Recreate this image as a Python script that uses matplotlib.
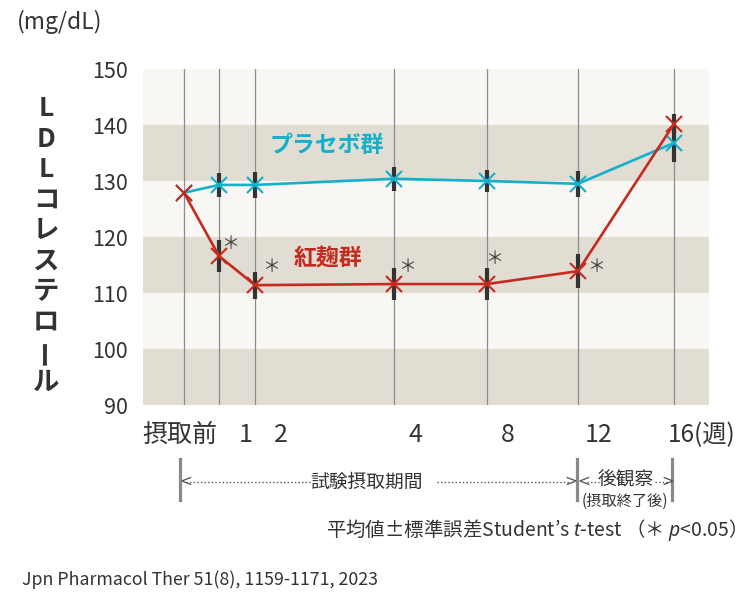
import matplotlib
matplotlib.use('Agg')
import matplotlib.pyplot as plt
import numpy as np

plt.rcParams['font.family'] = ['Noto Sans CJK JP', 'DejaVu Sans']
plt.rcParams['mathtext.fontset'] = 'custom'
plt.rcParams['mathtext.rm'] = 'Noto Sans'
plt.rcParams['mathtext.it'] = 'Noto Sans:italic'

# data
x_labels = ['摂取前', '1', '2', '4', '8', '12', '16(週)']
x_pos = [41, 76, 112, 251, 344, 435, 531]      # positions of the sampling lines on the axis
placebo = [127.9, 129.3, 129.3, 130.4, 130.0, 129.5, 136.8]
placebo_err = [0, 2.2, 2.3, 2.1, 2.0, 2.3, 3.4]
koji = [127.9, 116.6, 111.4, 111.6, 111.6, 113.9, 140.2]
koji_err = [0, 2.9, 2.4, 2.9, 2.9, 3.0, 1.8]
significant = [False, True, True, True, True, True, False]
y_ticks = [90, 100, 110, 120, 130, 140, 150]

W, H = 738, 599
cyan = '#13b0cb'
red = '#c62a1f'
dark = '#333333'
band = '#e1ddd3'
bg = '#f8f7f4'


def px(x, y):
    return (x / W, 1 - y / H)


fig = plt.figure(figsize=(W / 100, H / 100), dpi=100)
ax = fig.add_axes([143 / W, 1 - 405 / H, 566 / W, 336 / H])
ax.set_facecolor(bg)
ax.set_xlim(0, 566)
ax.set_ylim(90, 150)

for lo in (90, 110, 130):
    ax.axhspan(lo, lo + 10, color=band, lw=0, zorder=0)
for xp in x_pos:
    ax.axvline(xp, color='#8c8c8c', lw=0.9, zorder=1)

for s in ax.spines.values():
    s.set_visible(False)
ax.set_xticks([])
ax.set_yticks(y_ticks)
ax.tick_params(axis='y', length=0, pad=11, labelsize=15.5, labelcolor=dark)

# error bars
ax.errorbar(x_pos, placebo, yerr=placebo_err, fmt='none', ecolor=dark,
            elinewidth=3, capsize=0, zorder=3)
ax.errorbar(x_pos, koji, yerr=koji_err, fmt='none', ecolor=dark,
            elinewidth=3, capsize=0, zorder=3)

ax.plot(x_pos, placebo, color=cyan, lw=1.9, marker='x', ms=11, mew=1.5, zorder=4)
ax.plot(x_pos, koji, color=red, lw=1.9, marker='x', ms=11, mew=1.5, zorder=5)

# significance marks
star_off = [(0, 0), (11, 12), (16, 18), (13, 17), (7, 25), (18, 4), (0, 0)]
for xp, yv, sig, off in zip(x_pos, koji, significant, star_off):
    if sig:
        ax.annotate('＊', (xp, yv), xytext=off, textcoords='offset pixels',
                    ha='center', va='center', fontsize=13, color='#444444', zorder=6)

ax.text(184, 136.4, 'プラセボ群', color=cyan, fontsize=16.5, fontweight='bold',
        ha='center', va='center')
ax.text(185, 116.2, '紅麹群', color=red, fontsize=16.5, fontweight='bold',
        ha='center', va='center')

# x labels
lab_off = [-4, 27, 26, 21, 21, 21, 28]
for xp, lab, dx in zip(x_pos, x_labels, lab_off):
    ax.annotate(lab, (xp, 0), xycoords=('data', 'axes fraction'),
                xytext=(dx, -30), textcoords='offset pixels',
                ha='center', va='center', fontsize=18 if dx < 28 else 17.5,
                color=dark)

# y label, stacked vertically
ychars = ['L', 'D', 'L', 'コ', 'レ', 'ス', 'テ', 'ロ', 'ー', 'ル']
for i, ch in enumerate(ychars):
    fig.text(*px(46, 109 + i * 30.4), ch, ha='center', va='center',
             fontsize=19, fontweight='bold', color=dark,
             rotation=90 if ch == 'ー' else 0)

fig.text(*px(17, 22), '(mg/dL)', ha='left', va='center', fontsize=16.5, color=dark)

# period annotation
for bx in (180, 577, 672):
    fig.add_artist(plt.Line2D([bx / W, bx / W], [1 - 459 / H, 1 - 500 / H],
                              color='#8a8a8a', lw=2.3))
for x0, x1 in ((186, 311), (437, 570), (587, 599), (655, 668)):
    fig.add_artist(plt.Line2D([x0 / W, x1 / W], [1 - 482 / H, 1 - 482 / H],
                              color='#555555', lw=1, ls=(0, (1, 1.6))))
for cx, ch in ((186, '<'), (571, '>'), (584, '<'), (668, '>')):
    fig.text(*px(cx, 481), ch, ha='center', va='center', fontsize=11,
             color='#555555', family='DejaVu Sans')

fig.text(*px(367, 482), '試験摂取期間', ha='center', va='center', fontsize=13.5, color=dark)
fig.text(*px(626, 480), '後観察', ha='center', va='center', fontsize=13.5, color=dark)
fig.text(*px(625, 501), '(摂取終了後)', ha='center', va='center', fontsize=11, color=dark)

fig.text(*px(736, 530), '平均値±標準誤差Student’s $t$-test （＊ $p$<0.05）',
         ha='right', va='center', fontsize=14, color=dark)

fig.text(*px(22, 580), 'Jpn Pharmacol Ther 51(8), 1159-1171, 2023',
         ha='left', va='center', fontsize=12.8, color=dark)

fig.savefig('out.png', dpi=100, facecolor='white')
